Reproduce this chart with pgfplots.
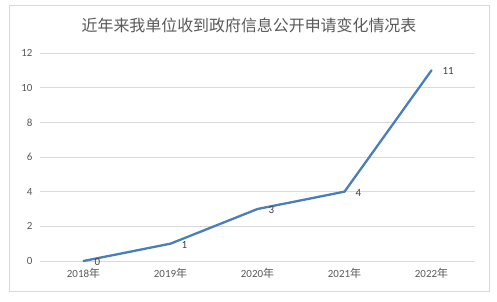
\documentclass[border=0pt]{standalone}
\usepackage{pgfplots}
\pgfplotsset{compat=1.18}
\usepackage{fontspec}
\setmainfont{Carlito}
\newfontfamily\cjk{Noto Sans CJK SC}
\definecolor{linec}{HTML}{4A7EBB}
\definecolor{txt}{HTML}{595959}
\definecolor{grid}{HTML}{D9D9D9}
\begin{document}
\begin{tikzpicture}[x=1bp,y=1bp]
\useasboundingbox (0,0) rectangle (497,301);
\draw[color=grid, line width=0.8bp] (9.5,9.5) rectangle (489.5,295.5);
\node[text=txt, font=\cjk\fontsize{16}{18}\selectfont] at (249,276) {近年来我单位收到政府信息公开申请变化情况表};
\begin{axis}[
  at={(40bp,40bp)}, anchor=south west,
  scale only axis, width=435bp, height=208bp,
  xmin=-0.5, xmax=4.5, ymin=0, ymax=12,
  xtick={0,1,2,3,4},
  xticklabels={2018{\cjk 年},2019{\cjk 年},2020{\cjk 年},2021{\cjk 年},2022{\cjk 年}},
  ytick={0,2,4,6,8,10,12},
  axis line style={draw=none},
  major tick length=0pt,
  ymajorgrids, grid style={color=grid, line width=0.8bp},
  tick label style={text=txt, font=\fontsize{11}{13}\selectfont},
  /pgf/number format/assume math mode=true,
  xticklabel style={yshift=-4bp},
  yticklabel style={xshift=-4bp},
  clip=false,
]
\addplot[color=linec, line width=2.3bp, line join=round, line cap=round,
  nodes near coords,
  every node near coord/.append style={anchor=west, xshift=9bp, yshift=-1bp, inner sep=1bp, text=black!75, font=\fontsize{11}{13}\selectfont},
] coordinates {(0,0) (1,1) (2,3) (3,4) (4,11)};
\end{axis}
\end{tikzpicture}
\end{document}
